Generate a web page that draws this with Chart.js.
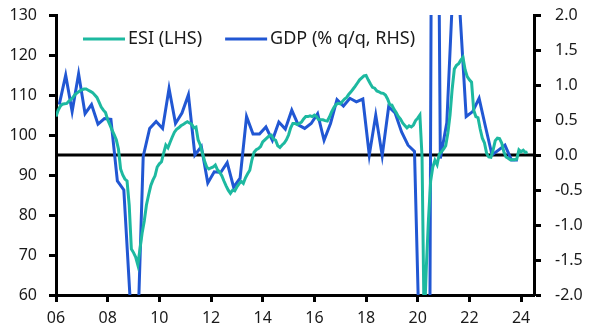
<!DOCTYPE html>
<html>
<head>
    <title>ESI vs GDP</title>
    <style>
        html, body {
            margin: 0;
            padding: 0;
            background: #ffffff;
        }

        #wrap {
            width: 592px;
            height: 334px;
        }
    </style>
    <script src="https://cdn.jsdelivr.net/npm/chart.js"></script>
</head>
<body>
    <div id="wrap">
        <canvas id="esi-chart" width="592" height="334"></canvas>
    </div>

    <script>
        // ESI, monthly from Jan 2006 (LHS)
        const esiStartYear = 2006;
        const esi = [
            104.6, 106.2, 107.2, 107.7, 107.8, 107.9, 108.5, 108.9, 109.5, 110.2, 110.6, 111.0, // 2006
            111.3, 111.5, 111.5, 111.2, 110.9, 110.6, 110.0, 109.4, 108.2, 107.0, 106.2, 105.6, // 2007
            103.8, 102.6, 101.3, 100.1, 98.8, 96.5, 91.5, 90.0, 89.0, 88.5, 82.5, 71.5,         // 2008
            70.6, 69.5, 67.5, 71.5, 75.5, 78.5, 82.5, 85.0, 87.3, 88.7, 89.8, 92.0,             // 2009
            92.8, 93.3, 95.5, 97.5, 96.8, 98.2, 99.5, 100.7, 101.4, 101.8, 102.3, 102.6,        // 2010
            103.0, 103.3, 103.0, 102.7, 101.8, 102.0, 98.8, 97.5, 95.5, 93.5, 92.0, 91.5,       // 2011
            91.8, 92.0, 92.5, 91.3, 90.7, 89.8, 88.5, 87.3, 86.2, 85.4, 86.2, 86.0,             // 2012
            87.0, 87.8, 88.4, 87.9, 89.3, 90.3, 91.2, 93.8, 95.7, 96.3, 96.6, 97.1,             // 2013
            98.3, 98.8, 99.3, 99.8, 100.0, 99.0, 98.7, 97.3, 96.9, 97.5, 98.0, 98.8,            // 2014
            100.0, 101.8, 102.9, 102.9, 102.6, 102.9, 103.2, 104.0, 104.6, 104.6, 104.8, 104.6, // 2015
            105.0, 104.6, 103.8, 103.8, 103.8, 103.6, 103.5, 104.5, 105.8, 106.8, 107.6, 107.9, // 2016
            107.8, 108.4, 109.0, 109.4, 110.2, 110.8, 111.5, 112.2, 113.0, 113.8, 114.3, 114.8, // 2017
            114.9, 113.8, 112.8, 111.9, 111.7, 111.0, 110.8, 110.5, 110.4, 110.0, 109.0, 107.6, // 2018
            107.5, 106.4, 105.6, 104.6, 104.0, 103.0, 102.4, 101.8, 102.3, 102.0, 102.5, 103.6, // 2019
            104.2, 105.0, 94.6, 52.0, 67.0, 79.0, 88.5, 92.0, 93.7, 92.6, 95.2, 95.8,           // 2020
            96.5, 97.3, 100.5, 105.0, 111.5, 116.5, 117.4, 117.8, 118.7, 119.4, 116.3, 114.6,   // 2021
            113.8, 113.2, 106.2, 104.6, 104.3, 101.5, 99.2, 98.0, 95.4, 94.5, 94.4, 96.2,       // 2022
            98.6, 99.2, 99.1, 98.0, 95.8, 94.5, 94.2, 93.8, 93.8, 93.8, 94.0, 96.3,             // 2023
            95.8, 96.2, 95.6, 95.8                                                              // 2024
        ];

        // GDP % q/q, quarterly from 2006Q1 (RHS)
        const gdpStartYear = 2006;
        const gdp = [
            0.72, 1.14, 0.62, 1.16,    // 2006
            0.59, 0.72, 0.44, 0.52,    // 2007
            0.51, -0.37, -0.50, -2.1,  // 2008
            -3.0, -0.02, 0.38, 0.48,   // 2009
            0.38, 0.95, 0.45, 0.60,    // 2010
            0.86, 0.0, 0.12, -0.40,    // 2011
            -0.24, -0.25, -0.11, -0.46, // 2012
            -0.33, 0.55, 0.30, 0.30,   // 2013
            0.40, 0.21, 0.47, 0.37,    // 2014
            0.64, 0.43, 0.38, 0.45,    // 2015
            0.59, 0.21, 0.45, 0.79,    // 2016
            0.70, 0.81, 0.76, 0.80,    // 2017
            0.0, 0.57, -0.01, 0.69,    // 2018
            0.60, 0.33, 0.14, 0.05,    // 2019
            -3.6, -11.5, 12.5, -0.05,  // 2020
            0.46, 2.5, 2.1, 0.55,      // 2021
            0.62, 0.81, 0.40, 0.0,     // 2022
            0.07, 0.14, -0.07, -0.07   // 2023
        ];

        const xTicks = [2006, 2008, 2010, 2012, 2014, 2016, 2018, 2020, 2022, 2024];
        const esiTicks = [60, 70, 80, 90, 100, 110, 120, 130];
        const gdpTicks = [-2.0, -1.5, -1.0, -0.5, 0.0, 0.5, 1.0, 1.5, 2.0];
        const seriesLabels = ['ESI (LHS)', 'GDP (% q/q, RHS)'];
        const esiZero = 95; // ESI level lined up with 0% GDP

        const tealColor = '#1db9a0';
        const blueColor = '#2157d3';
        const fontFamily = '"Noto Sans", sans-serif';

        // monthly points sit at the start of the month, quarterly ones mid-quarter
        const esiPoints = esi.map((v, i) => ({ x: esiStartYear + i / 12, y: v }));
        const gdpPoints = gdp.map((v, i) => ({ x: gdpStartYear + i / 4 + 0.125, y: v }));

        // black line through ESI 95 / GDP 0
        const zeroLine = {
            id: 'zeroLine',
            beforeDatasetsDraw(chart) {
                const ctx = chart.ctx;
                const area = chart.chartArea;
                const y = chart.scales.y.getPixelForValue(esiZero);
                ctx.save();
                ctx.strokeStyle = '#000';
                ctx.lineWidth = 3;
                ctx.beginPath();
                ctx.moveTo(area.left, y);
                ctx.lineTo(area.right, y);
                ctx.stroke();
                ctx.restore();
            }
        };

        // legend drawn inside the plot, top left
        const insideLegend = {
            id: 'insideLegend',
            afterDraw(chart) {
                const ctx = chart.ctx;
                let x = 83;
                const y = 39;
                ctx.save();
                ctx.font = '18px ' + fontFamily;
                ctx.textBaseline = 'middle';
                ctx.fillStyle = '#1a1a1a';
                chart.data.datasets.forEach(ds => {
                    ctx.strokeStyle = ds.borderColor;
                    ctx.lineWidth = 3;
                    ctx.beginPath();
                    ctx.moveTo(x, y);
                    ctx.lineTo(x + 42, y);
                    ctx.stroke();
                    x += 45;
                    ctx.fillText(ds.label, x, y);
                    x += ctx.measureText(ds.label).width + 23;
                });
                ctx.restore();
            }
        };

        // fixed axis sizes so the plot sits where the original one does
        function fitY(width) {
            return scale => {
                scale.width = width;
                scale.paddingTop = 0;
                scale.paddingBottom = 0;
            };
        }

        const ctx = document.getElementById('esi-chart').getContext('2d');
        const myChart = new Chart(ctx, {
            type: 'line',
            data: {
                datasets: [
                    {
                        label: seriesLabels[0],
                        data: esiPoints,
                        yAxisID: 'y',
                        borderColor: tealColor,
                        borderWidth: 3,
                        pointRadius: 0,
                        tension: 0,
                        clip: 0
                    },
                    {
                        label: seriesLabels[1],
                        data: gdpPoints,
                        yAxisID: 'y1',
                        borderColor: blueColor,
                        borderWidth: 3,
                        pointRadius: 0,
                        tension: 0,
                        clip: 0
                    }
                ]
            },
            options: {
                responsive: false,
                animation: false,
                layout: { padding: { top: 15, left: 0, right: 0, bottom: 0 } },
                plugins: {
                    legend: { display: false },
                    tooltip: { enabled: false }
                },
                scales: {
                    x: {
                        type: 'linear',
                        min: 2006,
                        max: 2024.5,
                        afterBuildTicks: scale => { scale.ticks = xTicks.map(v => ({ value: v })); },
                        afterFit: scale => {
                            scale.height = 39;
                            scale.paddingLeft = 0;
                            scale.paddingRight = 0;
                        },
                        border: { color: '#000', width: 3 },
                        grid: { drawOnChartArea: false, tickLength: 7, tickWidth: 3, tickColor: '#000' },
                        ticks: {
                            padding: 7,
                            maxRotation: 0,
                            color: '#1a1a1a',
                            font: { family: fontFamily, size: 16 },
                            callback: v => String(v % 100).padStart(2, '0')
                        }
                    },
                    y: {
                        position: 'left',
                        min: 60,
                        max: 130,
                        afterBuildTicks: scale => { scale.ticks = esiTicks.map(v => ({ value: v })); },
                        afterFit: fitY(56),
                        border: { color: '#000', width: 3 },
                        grid: { drawOnChartArea: false, tickLength: 7, tickWidth: 3, tickColor: '#000' },
                        ticks: {
                            padding: 12,
                            color: '#1a1a1a',
                            font: { family: fontFamily, size: 16 }
                        }
                    },
                    y1: {
                        position: 'right',
                        min: -2,
                        max: 2,
                        afterBuildTicks: scale => { scale.ticks = gdpTicks.map(v => ({ value: v })); },
                        afterFit: fitY(58),
                        border: { color: '#000', width: 3 },
                        grid: { drawOnChartArea: false, tickLength: 7, tickWidth: 3, tickColor: '#000' },
                        ticks: {
                            padding: 14,
                            color: '#1a1a1a',
                            font: { family: fontFamily, size: 16 },
                            callback: v => v.toFixed(1)
                        }
                    }
                }
            },
            plugins: [zeroLine, insideLegend]
        });
    </script>
</body>
</html>
